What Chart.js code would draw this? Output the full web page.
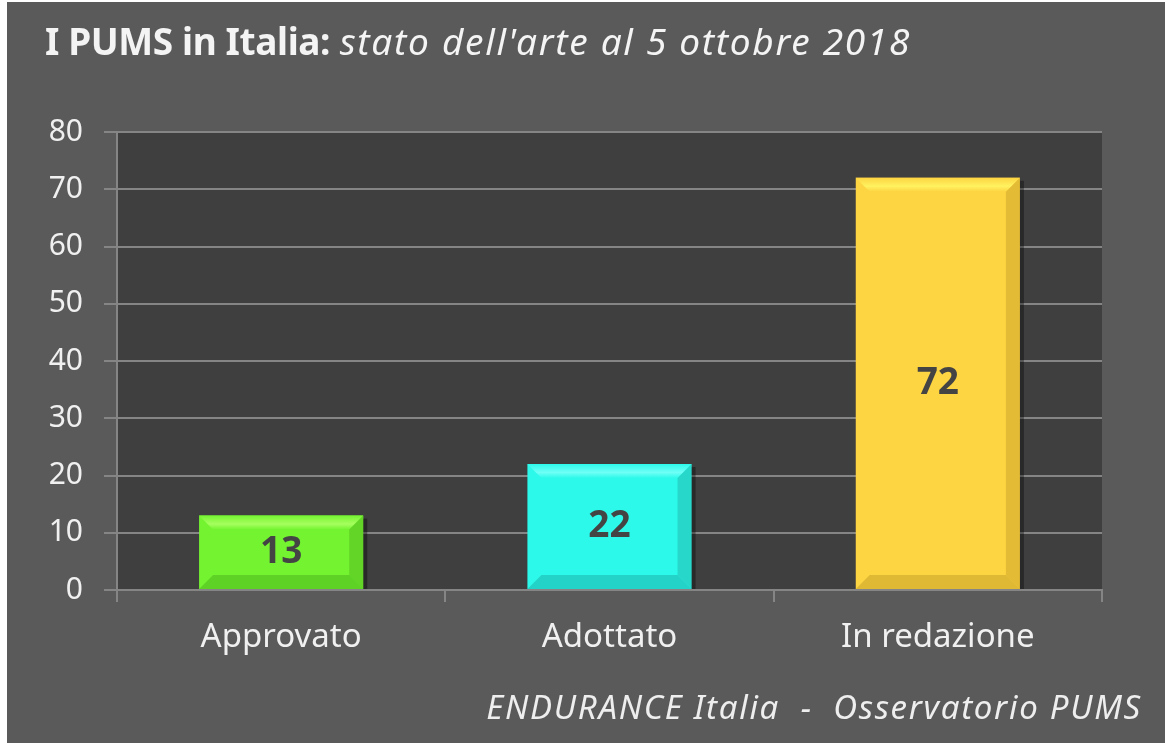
<!DOCTYPE html>
<html>
<head>
<meta charset="utf-8">
<script src="https://cdn.jsdelivr.net/npm/chart.js@4/dist/chart.umd.min.js"></script>
<style>
  html, body { margin: 0; padding: 0; background: #fff; }
  #frame {
    position: absolute; left: 7px; top: 2px; width: 1158px; height: 741px;
    background: #5a5a5a; overflow: hidden;
  }
  #chart { position: absolute; left: -7px; top: -2px; }
  #title {
    position: absolute; left: 38px; top: 16px; color: #f4f4f4;
    font-family: "Noto Sans", sans-serif; font-size: 37px; white-space: nowrap;
    line-height: 46px;
  }
  #title b { font-weight: bold; letter-spacing: -0.4px; }
  #title i { font-style: italic; letter-spacing: 1.7px; }
  #footer {
    position: absolute; right: 23px; top: 684px; color: #eeeeee;
    font-family: "Noto Sans", sans-serif; font-size: 33px; font-style: italic; white-space: nowrap;
    line-height: 42px; letter-spacing: 1.7px;
  }
</style>
</head>
<body>
<div id="frame">
  <canvas id="chart" width="1165" height="743"></canvas>
  <div id="title"><b>I PUMS in Italia:</b> <i>stato dell'arte al 5 ottobre 2018</i></div>
  <div id="footer">ENDURANCE Italia&nbsp; -&nbsp; Osservatorio PUMS</div>
</div>
<script>
const categories = ['Approvato', 'Adottato', 'In redazione'];
const values = [13, 22, 72];
const barColors = ['#74f431', '#2cf9ea', '#fdd441'];
const lightColors = ['#a6ff5e', '#6ffff6', '#fff260'];
const darkColors = ['#4fb61e', '#1fb5aa', '#c9a22a'];
const yTicks = [0, 10, 20, 30, 40, 50, 60, 70, 80];

const gridColor = '#858585';

// plot area background
const plotBg = {
  id: 'plotBg',
  beforeDraw(chart) {
    const { ctx, chartArea: a } = chart;
    ctx.save();
    ctx.fillStyle = '#3f3f3f';
    ctx.fillRect(a.left, a.top, a.right - a.left, a.bottom - a.top);
    ctx.restore();
  }
};

// bevelled bars + value labels
const bevel = {
  id: 'bevel',
  afterDatasetsDraw(chart) {
    const { ctx } = chart;
    const meta = chart.getDatasetMeta(0);
    meta.data.forEach((bar, i) => {
      const l = bar.x - bar.width / 2, r = bar.x + bar.width / 2;
      const t = bar.y, b = bar.base;
      const s = Math.min(14, (b - t) / 3);
      ctx.save();
      // shadow on right
      ctx.fillStyle = 'rgba(0,0,0,0.35)';
      ctx.fillRect(r, t + 3, 4, b - t - 3);
      // top bevel
      const g = ctx.createLinearGradient(0, t, 0, t + s);
      g.addColorStop(0, barColors[i]);
      g.addColorStop(0.6, lightColors[i]);
      g.addColorStop(1, barColors[i]);
      ctx.fillStyle = g;
      ctx.beginPath();
      ctx.moveTo(l, t); ctx.lineTo(r, t); ctx.lineTo(r - s, t + s); ctx.lineTo(l + s, t + s);
      ctx.closePath(); ctx.fill();
      // right bevel
      ctx.fillStyle = darkColors[i];
      ctx.globalAlpha = 0.5;
      ctx.beginPath();
      ctx.moveTo(r, t); ctx.lineTo(r, b); ctx.lineTo(r - s, b - s); ctx.lineTo(r - s, t + s);
      ctx.closePath(); ctx.fill();
      // bottom bevel
      ctx.globalAlpha = 0.55;
      ctx.beginPath();
      ctx.moveTo(l, b); ctx.lineTo(r, b); ctx.lineTo(r - s, b - s); ctx.lineTo(l + s, b - s);
      ctx.closePath(); ctx.fill();
      ctx.globalAlpha = 1;
      // value label
      ctx.fillStyle = '#444444';
      ctx.font = 'bold 37px "Noto Sans"';
      ctx.textAlign = 'center';
      ctx.textBaseline = 'middle';
      ctx.fillText(String(values[i]), bar.x, (t + b) / 2);
      ctx.restore();
    });
  }
};

new Chart(document.getElementById('chart'), {
  type: 'bar',
  data: {
    labels: categories,
    datasets: [{
      data: values,
      backgroundColor: barColors,
      borderWidth: 0,
      barPercentage: 0.5,
      categoryPercentage: 1
    }]
  },
  options: {
    responsive: false,
    animation: false,
    layout: { padding: { top: 132, right: 63, left: 0, bottom: 0 } },
    plugins: {
      legend: { display: false },
      title: { display: false },
      tooltip: { enabled: false }
    },
    scales: {
      x: {
        afterFit: s => { s.height = 153; },
        grid: {
          display: true, drawOnChartArea: false, drawTicks: true,
          tickLength: 12, color: gridColor, lineWidth: 2
        },
        border: { display: true, color: gridColor, width: 2 },
        ticks: { color: '#f0f0f0', font: { family: 'Noto Sans', size: 33 }, padding: 16 }
      },
      y: {
        min: 0, max: 80,
        afterFit: s => { s.width = 117; },
        afterBuildTicks: s => { s.ticks = yTicks.map(v => ({ value: v })); },
        grid: { color: gridColor, lineWidth: 2, tickLength: 13, drawTicks: true },
        border: { display: true, color: gridColor, width: 2 },
        ticks: { color: '#f0f0f0', font: { family: 'Noto Sans', size: 30 }, padding: 21 }
      }
    }
  },
  plugins: [plotBg, bevel]
});
</script>
</body>
</html>
